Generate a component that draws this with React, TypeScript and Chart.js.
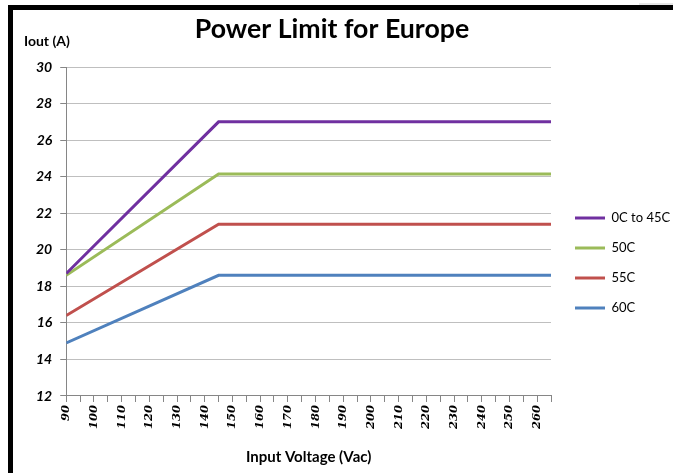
import React, { useEffect, useRef } from "react";
import { Chart, registerables } from "chart.js";

Chart.register(...registerables);

const voltages = [90, 145, 265];
const iout0to45 = [18.7, 27.0, 27.0];
const iout50 = [18.6, 24.15, 24.15];
const iout55 = [16.4, 21.4, 21.4];
const iout60 = [14.9, 18.6, 18.6];
const seriesNames = ["0C to 45C", "50C", "55C", "60C"];
const seriesColors = ["#7030A0", "#9BBB59", "#C0504D", "#4F81BD"];

const xMin = 90;
const xMax = 265;
const xStep = 5;
const xLabelStep = 10;
const yMin = 12;
const yMax = 30;
const yStep = 2;

const titleText = "Power Limit for Europe";
const yTitleText = "Iout (A)";
const xTitleText = "Input Voltage (Vac)";

const textPlugin = {
  id: "topTexts",
  afterDraw(chart: any) {
    const ctx = chart.ctx;
    ctx.save();
    ctx.fillStyle = "#000";
    ctx.textBaseline = "alphabetic";
    ctx.textAlign = "center";
    ctx.font = "bold 26.7px Lato, 'Open Sans', sans-serif";
    ctx.fillText(titleText, 332, 38);
    ctx.textAlign = "left";
    ctx.font = "bold 14px Lato, 'Open Sans', sans-serif";
    ctx.fillText(yTitleText, 24, 46);
    ctx.restore();
  },
};

export default function App() {
  const ref = useRef<HTMLCanvasElement | null>(null);
  useEffect(() => {
    if (!ref.current) return;
    const allSeries = [iout0to45, iout50, iout55, iout60];
    const chart = new Chart(ref.current, {
      type: "line",
      data: {
        datasets: allSeries.map((s, i) => ({
          label: seriesNames[i],
          data: s.map((y, j) => ({ x: voltages[j], y })),
          borderColor: seriesColors[i],
          backgroundColor: seriesColors[i],
          borderWidth: 3,
          pointRadius: 0,
          pointStyle: "line",
          tension: 0,
        })),
      },
      options: {
        responsive: false,
        animation: false,
        layout: { padding: { left: 28, right: 0, top: 60, bottom: 7 } },
        plugins: {
          title: { display: false },
          legend: {
            position: "right",
            maxWidth: 115,
            labels: {
              usePointStyle: true,
              pointStyle: "line",
              pointStyleWidth: 30,
              color: "#000",
              padding: 17,
              font: { family: "Lato, 'Open Sans', sans-serif", size: 13 },
            },
          },
          tooltip: { enabled: false },
        },
        scales: {
          x: {
            type: "linear",
            min: xMin,
            max: xMax,
            border: { color: "#868686", width: 1 },
            grid: {
              drawOnChartArea: false,
              drawTicks: true,
              tickLength: 6,
              tickColor: "#868686",
            },
            ticks: {
              stepSize: xStep,
              autoSkip: false,
              minRotation: 90,
              maxRotation: 90,
              padding: 3,
              color: "#000",
              font: { family: "'DejaVu Serif', serif", size: 11.5, weight: "bold", style: "italic" },
              callback: (v: any) => (Number(v) % xLabelStep === 0 ? String(v) : ""),
            },
            title: {
              display: true,
              text: xTitleText,
              color: "#000",
              font: { family: "Lato, 'Open Sans', sans-serif", size: 15, weight: "bold" },
              padding: { top: 16, bottom: 0 },
            },
          },
          xTopGap: {
            type: "linear",
            position: "top",
            display: true,
            grid: { display: false, drawTicks: false },
            ticks: { display: false },
            border: { display: false },
            afterFit: (s: any) => {
              s.height = 7;
            },
          },
          y: {
            type: "linear",
            min: yMin,
            max: yMax,
            border: { color: "#868686", width: 1 },
            grid: {
              color: "#BFBFBF",
              tickLength: 6,
              tickColor: "#868686",
            },
            ticks: {
              stepSize: yStep,
              padding: 8,
              color: "#000",
              font: { family: "Lato, 'Open Sans', sans-serif", size: 14, weight: "bold", style: "italic" },
            },
          },
          yRightGap: {
            type: "linear",
            position: "right",
            display: true,
            grid: { display: false, drawTicks: false },
            ticks: { display: false },
            border: { display: false },
            afterFit: (s: any) => {
              s.width = 7;
            },
          },
        },
      },
      plugins: [textPlugin],
    });
    return () => chart.destroy();
  }, []);

  return (
    <div style={{ position: "absolute", left: 0, top: 0, width: 673, height: 473, background: "#fff", overflow: "hidden" }}>
      <canvas ref={ref} width={673} height={473} style={{ position: "absolute", left: 0, top: 0 }} />
      <div style={{ position: "absolute", left: 8, top: 5, width: 665, height: 5, background: "#000" }} />
      <div style={{ position: "absolute", left: 8, top: 5, width: 5, height: 468, background: "#000" }} />
      <div style={{ position: "absolute", left: 639, top: 3, width: 34, height: 2, background: "#e6e6e6" }} />
    </div>
  );
}
